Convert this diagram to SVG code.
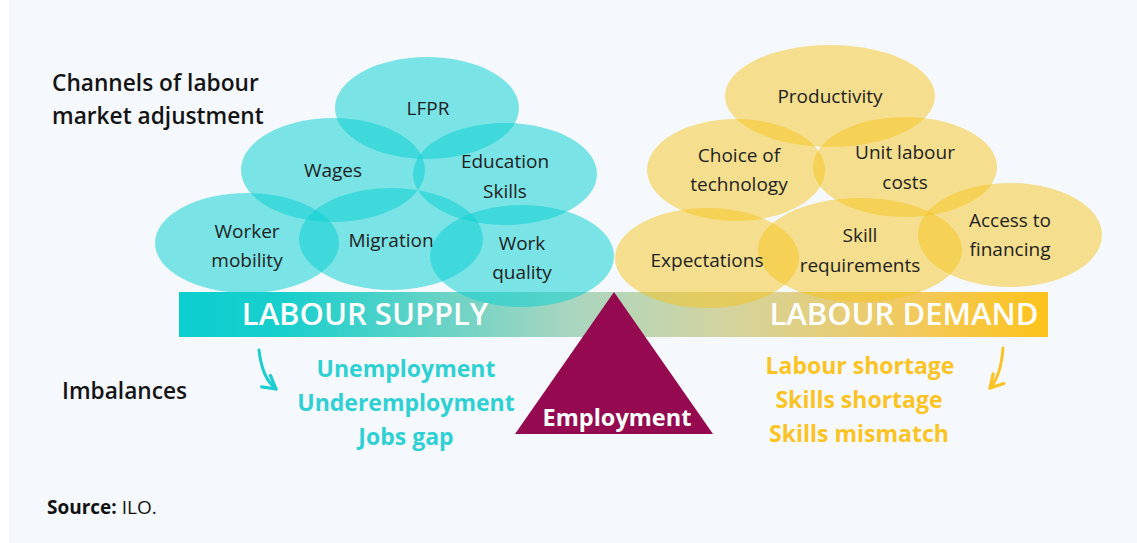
<svg xmlns="http://www.w3.org/2000/svg" width="1137" height="543" viewBox="0 0 1137 543">
<defs>
<style>
.t{font-family:"Open Sans","Noto Sans","Liberation Sans",sans-serif;}
.lbl{font-size:19px;fill:#1e1e1e;text-anchor:middle;}
.teal{fill:#0dcfd2;fill-opacity:0.53;}
.gold{fill:#f5c31e;fill-opacity:0.5;}
.head{font-size:22.7px;font-weight:600;fill:#141414;}
.bar{font-size:31px;font-weight:600;fill:#fff;text-anchor:middle;}
.imt{font-size:23px;font-weight:700;fill:#2fd0d3;text-anchor:middle;}
.imy{font-size:23px;font-weight:700;fill:#fbc323;text-anchor:middle;}
</style>
<linearGradient id="barg" x1="179" y1="0" x2="1048" y2="0" gradientUnits="userSpaceOnUse">
<stop offset="0" stop-color="#0ccfcf"/>
<stop offset="0.12" stop-color="#18cfcd"/>
<stop offset="0.45" stop-color="#a9d6c0"/>
<stop offset="0.62" stop-color="#d2d4a2"/>
<stop offset="0.85" stop-color="#f3c95a"/>
<stop offset="1" stop-color="#fdc31b"/>
</linearGradient>
<marker id="ah" viewBox="0 0 10 10" refX="8" refY="5" markerWidth="6" markerHeight="6" orient="auto" markerUnits="strokeWidth">
<path d="M1,1 L8,5 L1,9" fill="none" stroke="context-stroke" stroke-width="1.8" stroke-linecap="round" stroke-linejoin="round"/>
</marker>
</defs>
<rect x="0" y="0" width="1137" height="543" fill="#ffffff"/>
<rect x="9" y="0" width="1128" height="543" fill="#f5f9fd"/>

<g id="beam">
<rect x="179" y="292" width="869" height="45" fill="url(#barg)"/>
</g>

<g id="supply-channels">
<g id="lfpr"><ellipse class="teal" cx="427" cy="108" rx="92" ry="51"/></g>
<g id="wages"><ellipse class="teal" cx="333" cy="170" rx="92" ry="52"/></g>
<g id="education"><ellipse class="teal" cx="505" cy="174" rx="92" ry="51"/></g>
<g id="mobility"><ellipse class="teal" cx="247" cy="243" rx="92" ry="50"/></g>
<g id="migration"><ellipse class="teal" cx="391" cy="239" rx="92" ry="51"/></g>
<g id="quality"><ellipse class="teal" cx="522" cy="256" rx="92" ry="51"/></g>
</g>

<g id="demand-channels">
<g id="productivity"><ellipse class="gold" cx="830" cy="96" rx="105" ry="51"/></g>
<g id="technology"><ellipse class="gold" cx="736" cy="170" rx="89" ry="51"/></g>
<g id="ulc"><ellipse class="gold" cx="905" cy="167" rx="92" ry="50"/></g>
<g id="expectations"><ellipse class="gold" cx="707" cy="258" rx="92" ry="50"/></g>
<g id="skillreq"><ellipse class="gold" cx="860" cy="250" rx="102" ry="52"/></g>
<g id="financing"><ellipse class="gold" cx="1010" cy="235" rx="92" ry="52"/></g>
</g>

<g id="labels" class="t">
<text class="lbl" x="428" y="115">LFPR</text>
<text class="lbl" x="333" y="177">Wages</text>
<text class="lbl" x="505" y="168">Education</text>
<text class="lbl" x="505" y="198">Skills</text>
<text class="lbl" x="247" y="238">Worker</text>
<text class="lbl" x="247" y="267">mobility</text>
<text class="lbl" x="391" y="247">Migration</text>
<text class="lbl" x="522" y="250">Work</text>
<text class="lbl" x="522" y="279">quality</text>
<text class="lbl" x="830" y="103">Productivity</text>
<text class="lbl" x="739" y="162">Choice of</text>
<text class="lbl" x="739" y="191">technology</text>
<text class="lbl" x="905" y="159">Unit labour</text>
<text class="lbl" x="905" y="189">costs</text>
<text class="lbl" x="707" y="267">Expectations</text>
<text class="lbl" x="860" y="242">Skill</text>
<text class="lbl" x="860" y="272">requirements</text>
<text class="lbl" x="1010" y="227">Access to</text>
<text class="lbl" x="1010" y="256">financing</text>
</g>

<g id="beam-labels" class="t">
<text class="bar" x="365" y="325">LABOUR SUPPLY</text>
<text class="bar" x="904" y="325">LABOUR DEMAND</text>
</g>

<g id="fulcrum">
<polygon points="614,292 515,434 713,434" fill="#94094f"/>
<text class="t" x="617" y="426" font-size="23.5" font-weight="700" fill="#fff" text-anchor="middle">Employment</text>
</g>

<g id="headings" class="t">
<text class="head" x="52" y="91">Channels of labour</text>
<text class="head" x="52" y="124">market adjustment</text>
<text class="head" x="62" y="399">Imbalances</text>
</g>

<g id="supply-imbalances" class="t">
<text class="imt" x="406" y="377">Unemployment</text>
<text class="imt" x="406" y="411">Underemployment</text>
<text class="imt" x="406" y="445">Jobs gap</text>
</g>

<g id="demand-imbalances" class="t">
<text class="imy" x="860" y="374">Labour shortage</text>
<text class="imy" x="859" y="408">Skills shortage</text>
<text class="imy" x="859" y="442">Skills mismatch</text>
</g>

<g id="connectors" fill="none" stroke-width="3" stroke-linecap="round">
<path d="M259,350 Q262,378 276,389" stroke="#1ccdd0" marker-end="url(#ah)"/>
<path d="M1003,348 Q1001,376 990,388" stroke="#fbc323" marker-end="url(#ah)"/>
</g>

<g id="source" class="t">
<text x="47" y="514" font-size="19" fill="#111"><tspan font-weight="700">Source:</tspan> ILO.</text>
</g>
</svg>
